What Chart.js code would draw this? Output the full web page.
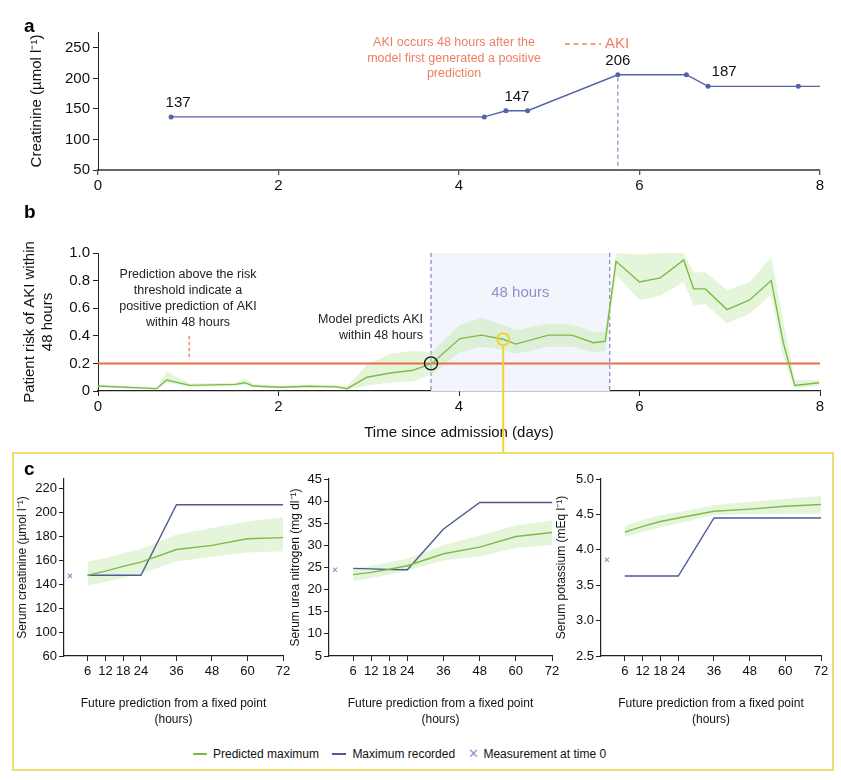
<!DOCTYPE html>
<html>
<head>
<meta charset="utf-8">
<script src="https://cdn.jsdelivr.net/npm/chart.js@4.4.0/dist/chart.umd.min.js"></script>
<style>
  body { margin: 0; background: #fff; font-family: "Liberation Sans", Arial, sans-serif; }
  #page { position: relative; width: 841px; height: 780px; overflow: hidden; }
  canvas { position: absolute; }
  .panel { position: absolute; font-weight: bold; font-size: 19px; color: #000; line-height: 1; }
  #ybox { position: absolute; left: 12px; top: 452px; width: 818px; height: 315px; border: 2px solid #f0dc6e; }
  #legend { position: absolute; left: 193px; top: 746px; font-size: 12px; color: #111; white-space: nowrap; }
  #legend .sw { display: inline-block; width: 14px; height: 2px; vertical-align: middle; margin-right: 6px; position: relative; top: -1px; }
  #legend .it { margin-right: 10px; }
  #legend .x { color: #8f93d6; margin-right: 4px; font-size: 13px; }
</style>
</head>
<body>
<div id="page">
  <div id="ybox"></div>
  <canvas id="chartA" width="841" height="200" style="left:0;top:0"></canvas>
  <canvas id="chartB" width="841" height="253" style="left:0;top:200px"></canvas>
  <canvas id="chartC1" width="300" height="270" style="left:0;top:460px"></canvas>
  <canvas id="chartC2" width="290" height="270" style="left:280px;top:460px"></canvas>
  <canvas id="chartC3" width="290" height="270" style="left:545px;top:460px"></canvas>
  <div class="panel" style="left:24px;top:16px">a</div>
  <div class="panel" style="left:24px;top:202px">b</div>
  <div class="panel" style="left:24px;top:459px">c</div>
  <div id="legend">
    <span class="sw" style="background:#7dbb48"></span><span class="it">Predicted maximum</span>
    <span class="sw" style="background:#4d5a96"></span><span class="it">Maximum recorded</span>
    <span class="x">&#x2715;</span><span>Measurement at time 0</span>
  </div>
</div>
<script>
// ---- panel a: creatinine measurements
var creatDays = [0.81, 4.28, 4.52, 4.76, 5.76, 6.52, 6.76, 7.76, 8.0];
var creatValues = [137, 137, 147, 147, 206, 206, 187, 187, 187];
var creatLabelIdx = [0, 2, 4, 6];
var creatLabelShift = [7, 11, 0, 16];   // px nudges of the number labels
var creatTicks = [50, 100, 150, 200, 250];
var dayTicks = [0, 2, 4, 6, 8];
var akiDay = 5.76;

// ---- panel b: predicted risk
var riskDays = [0.00, 0.65, 0.76, 1.02, 1.52, 1.63, 1.72, 2.02, 2.35, 2.64, 2.76, 2.98, 3.24, 3.49, 3.70,
  4.01, 4.25, 4.49, 4.63, 4.99, 5.25, 5.49, 5.62, 5.74, 6.00, 6.23, 6.49, 6.60, 6.73, 6.97, 7.22, 7.46,
  7.59, 7.72, 7.99];
var riskValues = [0.036, 0.017, 0.080, 0.041, 0.048, 0.060, 0.036, 0.027, 0.034, 0.030, 0.017, 0.100, 0.130, 0.150, 0.200,
  0.380, 0.405, 0.375, 0.340, 0.405, 0.405, 0.350, 0.360, 0.940, 0.790, 0.820, 0.950, 0.740, 0.740, 0.590, 0.660, 0.800,
  0.360, 0.040, 0.060];
var riskUpper = [0.045, 0.025, 0.140, 0.055, 0.060, 0.090, 0.050, 0.038, 0.045, 0.042, 0.030, 0.190, 0.270, 0.290, 0.280,
  0.480, 0.530, 0.480, 0.440, 0.490, 0.480, 0.430, 0.430, 1.000, 0.990, 1.000, 1.000, 0.860, 0.860, 0.730, 0.790, 0.970,
  0.520, 0.080, 0.080];
var riskLower = [0.025, 0.010, 0.060, 0.030, 0.038, 0.045, 0.028, 0.020, 0.025, 0.022, 0.010, 0.040, 0.060, 0.070, 0.120,
  0.280, 0.320, 0.300, 0.270, 0.320, 0.320, 0.280, 0.290, 0.840, 0.660, 0.690, 0.790, 0.620, 0.630, 0.490, 0.560, 0.700,
  0.250, 0.020, 0.040];
var riskTicks = [0, 0.2, 0.4, 0.6, 0.8, 1.0];
var threshold = 0.2;
var alertDay = 3.69;
var windowEndDay = 5.67;
var fixedDay = 4.49, fixedRisk = 0.375;
var noteDay = 1.01;

// ---- panel c: lab forecasts from the fixed point
var hourTicks = [6, 12, 18, 24, 36, 48, 60, 72];
var predHours = [6, 12, 18, 24, 36, 48, 60, 72];

var crPred = [147.5, 151, 155, 158.5, 169, 172.5, 178, 179];
var crUpper = [159, 162, 166, 169.5, 181.5, 187, 192.5, 196];
var crLower = [139, 142, 145.5, 149, 159, 163, 166.5, 167.5];
var crRecHours = [6, 24, 36, 72];
var crRec = [147.5, 147.5, 206.5, 206.5];
var crNow = 147;
var crTicks = [80, 100, 120, 140, 160, 180, 200, 220];
var crTickLabels = ['60', '100', '120', '140', '160', '180', '200', '220'];

var bunPred = [23.4, 23.9, 24.6, 25.4, 28.1, 29.6, 32.0, 32.9];
var bunUpper = [24.7, 25.4, 26.2, 27.0, 30.1, 32.2, 34.5, 35.6];
var bunLower = [21.9, 22.6, 23.4, 24.3, 26.6, 27.5, 29.4, 30.1];
var bunRecHours = [6, 12, 18, 24, 36, 48, 72];
var bunRec = [24.8, 24.7, 24.55, 24.5, 33.7, 39.7, 39.7];
var bunNow = 24.5;
var bunTicks = [5, 10, 15, 20, 25, 30, 35, 40, 45];

var kPred = [4.25, 4.33, 4.40, 4.45, 4.545, 4.575, 4.615, 4.64];
var kUpper = [4.335, 4.42, 4.49, 4.53, 4.63, 4.68, 4.72, 4.76];
var kLower = [4.18, 4.25, 4.32, 4.37, 4.49, 4.50, 4.51, 4.51];
var kRecHours = [6, 24, 36, 72];
var kRec = [3.63, 3.63, 4.45, 4.45];
var kNow = 3.86;
var kTicks = [2.5, 3.0, 3.5, 4.0, 4.5, 5.0];

var GREEN = '#7dbb48', BAND = 'rgba(196,232,170,0.45)', BLUE = '#4d5a96', BLUE_A = '#5462a8';
var ORANGE = '#e96f48', ORANGE_TXT = '#ee7f60', DASH_BLUE = '#7f88c2', YELLOW = '#f2d22e';
var FONT = '"Liberation Sans", Arial, sans-serif';

Chart.defaults.font.family = FONT;
Chart.defaults.color = '#111';
Chart.defaults.animation = false;

function pts(xs, ys) {
  return xs.map(function(x, i) { return {x: x, y: ys[i]}; });
}
function fixTicks(list) {
  return function(scale) { scale.ticks = list.map(function(v) { return {value: v}; }); };
}
function textLines(ctx, lines, x, y, step) {
  lines.forEach(function(t, i) { ctx.fillText(t, x, y + i * step); });
}

// ---------------- panel a
var aPlugin = {
  id: 'aNotes',
  afterDatasetsDraw: function(chart) {
    var ctx = chart.ctx, xs = chart.scales.x, ys = chart.scales.y;
    ctx.save();
    // AKI marker
    var ax = xs.getPixelForValue(akiDay);
    ctx.strokeStyle = DASH_BLUE; ctx.lineWidth = 1.2; ctx.setLineDash([4, 3]);
    ctx.beginPath(); ctx.moveTo(ax, ys.getPixelForValue(creatValues[4]) + 3); ctx.lineTo(ax, ys.bottom); ctx.stroke();
    ctx.setLineDash([]);
    // value labels
    ctx.fillStyle = '#111'; ctx.font = '15px ' + FONT; ctx.textAlign = 'center'; ctx.textBaseline = 'middle';
    creatLabelIdx.forEach(function(idx, k) {
      ctx.fillText(String(creatValues[idx]), xs.getPixelForValue(creatDays[idx]) + creatLabelShift[k],
        ys.getPixelForValue(creatValues[idx]) - 14);
    });
    // note text
    ctx.fillStyle = ORANGE_TXT; ctx.font = '12.5px ' + FONT;
    textLines(ctx, ['AKI occurs 48 hours after the', 'model first generated a positive', 'prediction'], 454, 43, 15.5);
    // legend for AKI
    ctx.strokeStyle = ORANGE_TXT; ctx.lineWidth = 1.3; ctx.setLineDash([5, 3.5]);
    ctx.beginPath(); ctx.moveTo(565, 44); ctx.lineTo(601, 44); ctx.stroke();
    ctx.setLineDash([]);
    ctx.textAlign = 'left'; ctx.font = '15px ' + FONT;
    ctx.fillText('AKI', 605, 44);
    ctx.restore();
  }
};

new Chart(document.getElementById('chartA'), {
  type: 'line',
  data: {
    datasets: [{
      data: pts(creatDays, creatValues),
      borderColor: BLUE_A, backgroundColor: BLUE_A, borderWidth: 1.4,
      pointRadius: creatDays.map(function(d, i) { return i === creatDays.length - 1 ? 0 : 2.5; }),
      pointBorderWidth: 0, tension: 0
    }]
  },
  options: {
    responsive: false,
    layout: {padding: {top: 32, right: 21, left: 0, bottom: 0}},
    plugins: {legend: {display: false}, tooltip: {enabled: false}},
    scales: {
      x: {
        type: 'linear', min: 0, max: 8,
        afterBuildTicks: fixTicks(dayTicks),
        afterFit: function(s) { s.height = 30; },
        grid: {drawOnChartArea: false, drawTicks: true, tickLength: 5, color: '#555', lineWidth: 1.3},
        border: {color: '#666', width: 2},
        ticks: {font: {size: 15}, padding: 2, color: '#111', maxRotation: 0}
      },
      y: {
        min: 50, max: 276,
        afterBuildTicks: fixTicks(creatTicks),
        afterFit: function(s) { s.width = 98; },
        grid: {drawOnChartArea: false, drawTicks: true, tickLength: 5, color: '#222'},
        border: {color: '#222', width: 1},
        ticks: {font: {size: 15}, padding: 3, color: '#111'},
        title: {display: true, text: 'Creatinine (\u00b5mol l\u207b\u00b9)', font: {size: 15}, padding: {top: 28, bottom: 0}, color: '#111'}
      }
    }
  },
  plugins: [aPlugin]
});

// ---------------- panel b
var bPlugin = {
  id: 'bNotes',
  beforeDatasetsDraw: function(chart) {
    var ctx = chart.ctx, xs = chart.scales.x, ys = chart.scales.y;
    var x0 = xs.getPixelForValue(alertDay), x1 = xs.getPixelForValue(windowEndDay);
    var yTop = ys.getPixelForValue(1), yBot = ys.getPixelForValue(0);
    ctx.save();
    ctx.fillStyle = '#f3f5fc';
    ctx.fillRect(x0, yTop, x1 - x0, yBot - yTop);
    ctx.strokeStyle = DASH_BLUE; ctx.lineWidth = 1.2; ctx.setLineDash([4, 3]);
    [x0, x1].forEach(function(x) { ctx.beginPath(); ctx.moveTo(x, yTop); ctx.lineTo(x, yBot); ctx.stroke(); });
    ctx.setLineDash([]);
    ctx.fillStyle = '#8a92c8'; ctx.font = '15px ' + FONT; ctx.textAlign = 'center'; ctx.textBaseline = 'middle';
    ctx.fillText('48 hours', (x0 + x1) / 2, ys.getPixelForValue(0.71));
    ctx.restore();
  },
  afterDatasetsDraw: function(chart) {
    var ctx = chart.ctx, xs = chart.scales.x, ys = chart.scales.y;
    ctx.save();
    // small dashed pointer to threshold
    var nx = xs.getPixelForValue(noteDay);
    ctx.strokeStyle = ORANGE; ctx.lineWidth = 1.2; ctx.setLineDash([3.5, 2.5]);
    ctx.beginPath(); ctx.moveTo(nx, ys.getPixelForValue(0.4)); ctx.lineTo(nx, ys.getPixelForValue(0.225)); ctx.stroke();
    ctx.setLineDash([]);
    // first alert circle
    ctx.strokeStyle = '#111'; ctx.lineWidth = 1.3;
    ctx.beginPath(); ctx.arc(xs.getPixelForValue(alertDay), ys.getPixelForValue(threshold), 6.5, 0, Math.PI * 2); ctx.stroke();
    // fixed point circle and link to panel c
    var fx = xs.getPixelForValue(fixedDay), fy = ys.getPixelForValue(fixedRisk);
    ctx.strokeStyle = YELLOW; ctx.lineWidth = 1.8;
    ctx.beginPath(); ctx.arc(fx, fy, 6, 0, Math.PI * 2); ctx.stroke();
    ctx.lineWidth = 2;
    ctx.beginPath(); ctx.moveTo(fx, fy + 6); ctx.lineTo(fx, chart.height); ctx.stroke();
    // texts
    ctx.fillStyle = '#222'; ctx.font = '12.5px ' + FONT; ctx.textBaseline = 'middle'; ctx.textAlign = 'center';
    textLines(ctx, ['Prediction above the risk', 'threshold indicate a', 'positive prediction of AKI', 'within 48 hours'], 188, 75, 15.7);
    ctx.textAlign = 'right';
    textLines(ctx, ['Model predicts AKI', 'within 48 hours'], 423, 120, 15.5);
    ctx.restore();
  }
};

new Chart(document.getElementById('chartB'), {
  type: 'line',
  data: {
    datasets: [
      {data: pts(riskDays, riskValues), borderColor: GREEN, borderWidth: 1.4, pointRadius: 0, tension: 0, fill: false},
      {data: [{x: 0, y: threshold}, {x: 8, y: threshold}], borderColor: ORANGE, borderWidth: 2, pointRadius: 0, fill: false},
      {data: pts(riskDays, riskUpper), borderWidth: 0, pointRadius: 0, backgroundColor: BAND, fill: '+1'},
      {data: pts(riskDays, riskLower), borderWidth: 0, pointRadius: 0, fill: false}
    ]
  },
  options: {
    responsive: false,
    layout: {padding: {top: 53, right: 21, left: 0, bottom: 0}},
    plugins: {legend: {display: false}, tooltip: {enabled: false}},
    scales: {
      x: {
        type: 'linear', min: 0, max: 8,
        afterBuildTicks: fixTicks(dayTicks),
        afterFit: function(s) { s.height = 62; },
        grid: {drawOnChartArea: false, drawTicks: true, tickLength: 5, color: '#222'},
        border: {color: '#222', width: 1.3},
        ticks: {font: {size: 15}, padding: 2, color: '#111', maxRotation: 0},
        title: {display: true, text: 'Time since admission (days)', font: {size: 15, lineHeight: 1.2}, padding: {top: 0, bottom: 11}, color: '#111'}
      },
      y: {
        min: 0, max: 1,
        afterBuildTicks: fixTicks(riskTicks),
        afterFit: function(s) { s.width = 98; },
        grid: {drawOnChartArea: false, drawTicks: true, tickLength: 5, color: '#222'},
        border: {color: '#222', width: 1},
        ticks: {font: {size: 15}, padding: 3, color: '#111',
          callback: function(v) { return v === 0 ? '0' : v.toFixed(1); }},
        title: {display: true, text: ['Patient risk of AKI within', '48 hours'], font: {size: 15, lineHeight: 1.2},
          padding: {top: 21, bottom: 0}, color: '#111'}
      }
    }
  },
  plugins: [bPlugin]
});

// ---------------- panel c
function labChart(id, cfg) {
  return new Chart(document.getElementById(id), {
    type: 'line',
    data: {
      datasets: [
        {data: pts(predHours, cfg.pred), borderColor: GREEN, borderWidth: 1.4, pointRadius: 0, fill: false},
        {data: pts(cfg.recHours, cfg.rec), borderColor: BLUE, borderWidth: 1.4, pointRadius: 0, fill: false},
        {type: 'scatter', data: [{x: 0, y: cfg.now}], pointStyle: 'crossRot', pointRadius: 3,
          borderColor: '#8f93d6', borderWidth: 1.1, backgroundColor: '#8f93d6'},
        {data: pts(predHours, cfg.upper), borderWidth: 0, pointRadius: 0, backgroundColor: BAND, fill: '+1'},
        {data: pts(predHours, cfg.lower), borderWidth: 0, pointRadius: 0, fill: false}
      ]
    },
    options: {
      responsive: false,
      layout: {padding: {top: 19, right: cfg.right, left: 0, bottom: 0}},
      plugins: {legend: {display: false}, tooltip: {enabled: false}},
      scales: {
        x: {
          type: 'linear', min: -2, max: 72,
          afterBuildTicks: fixTicks(hourTicks),
          afterFit: function(s) { s.height = 74; },
          grid: {drawOnChartArea: false, drawTicks: true, tickLength: 5, color: '#222'},
          border: {color: '#222', width: 1.2},
          ticks: {font: {size: 13}, padding: 3, color: '#111', maxRotation: 0, autoSkip: false},
          title: {display: true, text: ['Future prediction from a fixed point', '(hours)'], font: {size: 12, lineHeight: 1.3},
            padding: {top: 0, bottom: 3}, color: '#111'}
        },
        y: {
          min: cfg.min, max: cfg.max,
          afterBuildTicks: fixTicks(cfg.ticks),
          afterFit: function(s) { s.width = cfg.axisW; },
          grid: {drawOnChartArea: false, drawTicks: true, tickLength: 5, color: '#222'},
          border: {color: '#222', width: 1.2},
          ticks: {font: {size: 13}, padding: 2, color: '#111', callback: cfg.fmt},
          title: {display: true, text: cfg.title, font: {size: 12, lineHeight: 1.2}, padding: {top: cfg.titlePad, bottom: 0}, color: '#111'}
        }
      }
    }
  });
}

labChart('chartC1', {
  pred: crPred, upper: crUpper, lower: crLower, recHours: crRecHours, rec: crRec, now: crNow,
  min: 80, max: 228, ticks: crTicks, axisW: 64, right: 17, titlePad: 15,
  fmt: function(v) { return crTickLabels[crTicks.indexOf(v)]; },
  title: 'Serum creatinine (\u00b5mol l\u207b\u00b9)'
});
labChart('chartC2', {
  pred: bunPred, upper: bunUpper, lower: bunLower, recHours: bunRecHours, rec: bunRec, now: bunNow,
  min: 5, max: 45, ticks: bunTicks, axisW: 49, right: 18, titlePad: 8,
  fmt: function(v) { return String(v); },
  title: 'Serum urea nitrogen (mg dl\u207b\u00b9)'
});
labChart('chartC3', {
  pred: kPred, upper: kUpper, lower: kLower, recHours: kRecHours, rec: kRec, now: kNow,
  min: 2.5, max: 5.0, ticks: kTicks, axisW: 56, right: 14, titlePad: 9.5,
  fmt: function(v) { return v.toFixed(1); },
  title: 'Serum potassium (mEq l\u207b\u00b9)'
});
</script>
</body>
</html>
